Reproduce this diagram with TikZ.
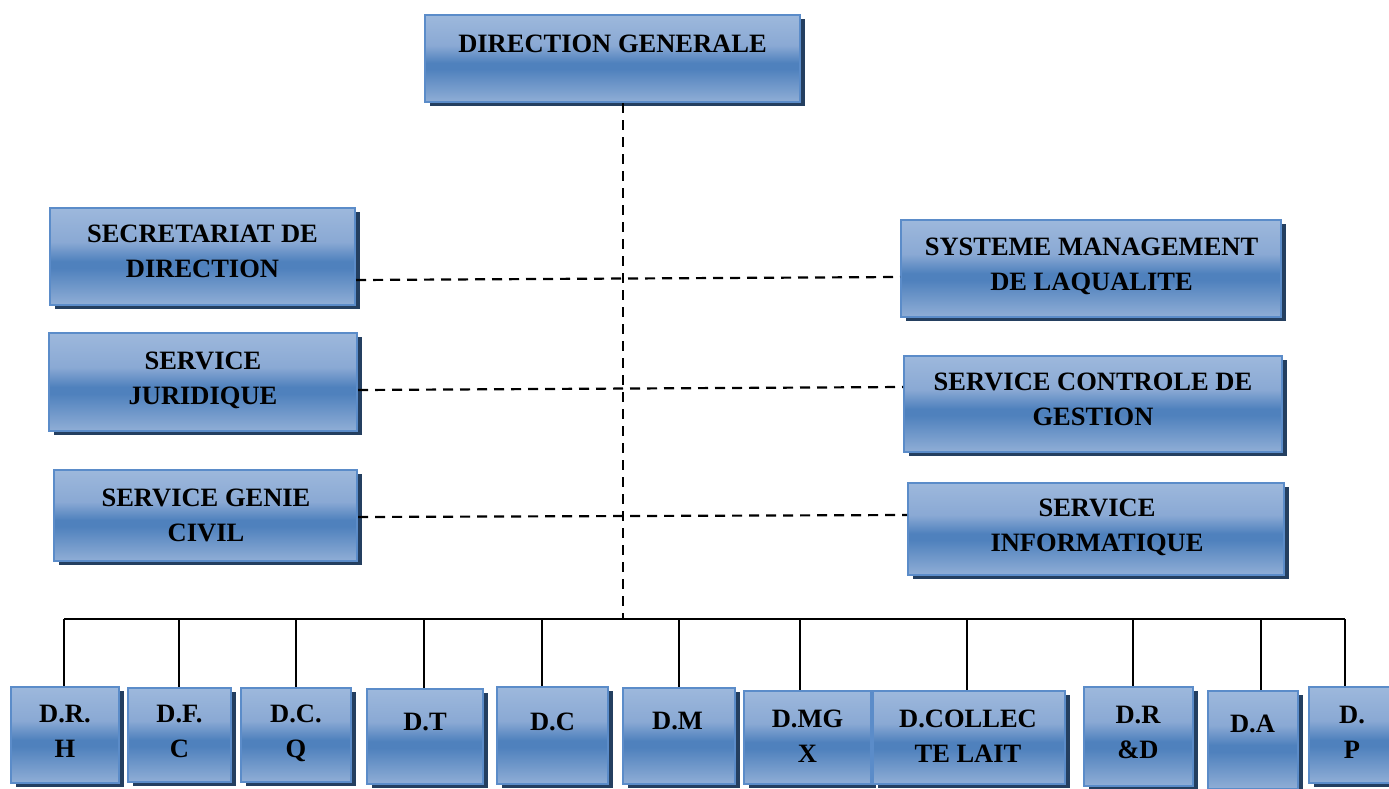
\documentclass[tikz,border=0pt]{standalone}
\usepackage{fontspec}
\setmainfont{Liberation Serif}
\usetikzlibrary{shadows}
\definecolor{shA}{HTML}{90AED6}
\definecolor{shB}{HTML}{4F81BD}
\definecolor{shC}{HTML}{8AA9D4}
\definecolor{shD}{HTML}{9DB8DC}
\definecolor{borderc}{HTML}{5B8CC9}
\definecolor{shadowc}{HTML}{243F60}
\pgfdeclareverticalshading{boxshade}{100bp}{color(0bp)=(shA); color(25bp)=(shA); color(44bp)=(shB); color(47.5bp)=(shB); color(57.5bp)=(shC); color(75bp)=(shD); color(100bp)=(shD)}
\tikzset{
  box/.style={rectangle, draw=borderc, line width=2pt, shade, shading=boxshade,
    general shadow={fill=shadowc, shadow xshift=4.5pt, shadow yshift=-4pt}, inner sep=0pt},
  lbl/.style={anchor=north, inner sep=0pt, align=center, text=black,
    font=\fontsize{26.5}{35}\selectfont\bfseries},
  dashline/.style={line width=2.2pt, dash pattern=on 10pt off 7pt},
  solidline/.style={line width=1.2pt, black}
}
\begin{document}
\begin{tikzpicture}[x=1pt,y=-1pt]
\useasboundingbox (0,0) rectangle (1389,788);
\clip (0,0) rectangle (1389,788);
% coordinates
\coordinate (bus) at (623,619);
\coordinate (b1) at (64,619);
\coordinate (b2) at (179,619);
\coordinate (b3) at (296,619);
\coordinate (b4) at (424,619);
\coordinate (b5) at (542,619);
\coordinate (b6) at (679,619);
\coordinate (b7) at (800,619);
\coordinate (b8) at (967,619);
\coordinate (b9) at (1133,619);
\coordinate (b10) at (1261,619);
\coordinate (b11) at (1345,619);
% boxes
\node[box, minimum width=375pt, minimum height=87pt] (dg) at (612.5,58.5) {};
\node[box, minimum width=305pt, minimum height=97pt] (sec) at (202.5,256.5) {};
\node[box, minimum width=308pt, minimum height=98pt] (jur) at (203,382) {};
\node[box, minimum width=303pt, minimum height=91pt] (gc) at (205.5,515.5) {};
\node[box, minimum width=380pt, minimum height=97pt] (sys) at (1091,268.5) {};
\node[box, minimum width=378pt, minimum height=96pt] (ctrl) at (1093,404) {};
\node[box, minimum width=376pt, minimum height=92pt] (info) at (1096,529) {};
\node[box, minimum width=108pt, minimum height=96pt] (drh) at (65,735) {};
\node[box, minimum width=103pt, minimum height=94pt] (dfc) at (179.5,735) {};
\node[box, minimum width=110pt, minimum height=94pt] (dcq) at (296,735) {};
\node[box, minimum width=116pt, minimum height=95pt] (dt) at (425,736.5) {};
\node[box, minimum width=111pt, minimum height=97pt] (dc) at (552.5,735.5) {};
\node[box, minimum width=112pt, minimum height=96pt] (dm) at (679,736) {};
\node[box, minimum width=127pt, minimum height=93pt] (dmgx) at (807.5,737.5) {};
\node[box, minimum width=192pt, minimum height=93pt] (dcol) at (969,737.5) {};
\node[box, minimum width=109pt, minimum height=99pt] (drd) at (1138.5,736.5) {};
\node[box, minimum width=90pt, minimum height=98pt] (da) at (1253,740) {};
\node[box, minimum width=90pt, minimum height=96pt] (dp) at (1354,735) {};
% labels
\node[lbl] (dgt) at (612.5,35) {DIRECTION GENERALE};
\node[lbl] (sect) at (202.5,225) {SECRETARIAT DE\\DIRECTION};
\node[lbl] (jurt) at (203,352) {SERVICE\\JURIDIQUE};
\node[lbl] (gct) at (206,489) {SERVICE GENIE\\CIVIL};
\node[lbl] (syst) at (1091.5,238) {SYSTEME MANAGEMENT\\DE LAQUALITE};
\node[lbl] (ctrlt) at (1093,373) {SERVICE CONTROLE DE\\GESTION};
\node[lbl] (infot) at (1097,499) {SERVICE\\INFORMATIQUE};
\node[lbl] (drht) at (65,705) {D.R.\\H};
\node[lbl] (dfct) at (179.5,705) {D.F.\\C};
\node[lbl] (dcqt) at (296,705) {D.C.\\Q};
\node[lbl] (dtt) at (425,713) {D.T};
\node[lbl] (dct) at (552.5,713) {D.C};
\node[lbl] (dmt) at (677.5,712) {D.M};
\node[lbl] (dmgxt) at (807.5,710) {D.MG\\X};
\node[lbl] (dcolt) at (968,710) {D.COLLEC\\TE LAIT};
\node[lbl] (drdt) at (1138,706) {D.R\\\&D};
\node[lbl] (dat) at (1252.5,715) {D.A};
\node[lbl] (dpt) at (1352,706) {D.\\P};
% dashed connectors
\draw[dashline] ([xshift=10.5pt]dg.south) -- (bus);
\draw[dashline] ([yshift=-23.5pt]sec.east) -- ([yshift=-8.5pt]sys.west);
\draw[dashline] ([yshift=-8pt]jur.east) -- ([yshift=17pt]ctrl.west);
\draw[dashline] ([yshift=-1.5pt]gc.east) -- ([yshift=14pt]info.west);
% solid bus and drops
\draw[solidline] (b1) -- (b11);
\draw[solidline] (b1) -- (b1 |- drh.north);
\draw[solidline] (b2) -- (b2 |- dfc.north);
\draw[solidline] (b3) -- (b3 |- dcq.north);
\draw[solidline] (b4) -- (b4 |- dt.north);
\draw[solidline] (b5) -- (b5 |- dc.north);
\draw[solidline] (b6) -- (b6 |- dm.north);
\draw[solidline] (b7) -- (b7 |- dmgx.north);
\draw[solidline] (b8) -- (b8 |- dcol.north);
\draw[solidline] (b9) -- (b9 |- drd.north);
\draw[solidline] (b10) -- (b10 |- da.north);
\draw[solidline] (b11) -- (b11 |- dp.north);
\end{tikzpicture}
\end{document}
